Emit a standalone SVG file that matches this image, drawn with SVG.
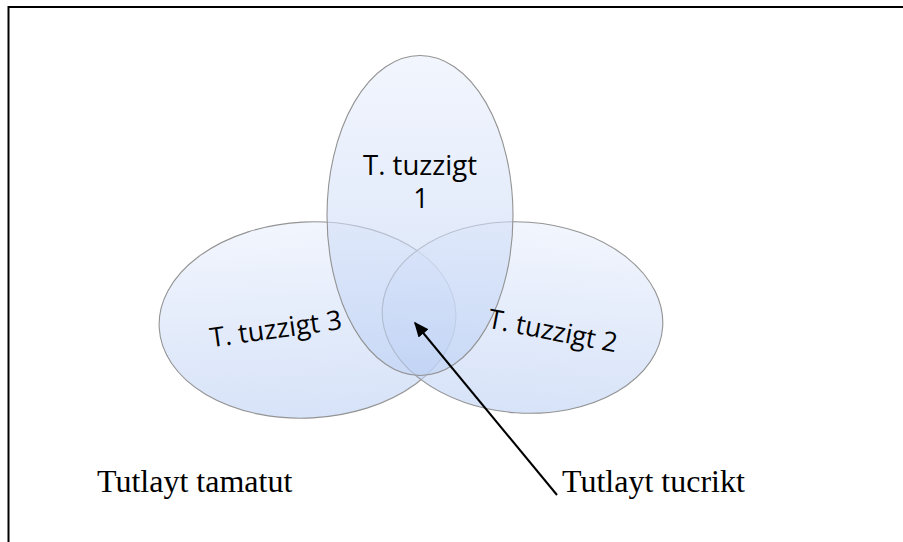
<svg xmlns="http://www.w3.org/2000/svg" width="903" height="542" viewBox="0 0 903 542">
  <defs>
    <linearGradient id="g" x1="0" y1="0" x2="0" y2="1">
      <stop offset="0" stop-color="#e9effc"/>
      <stop offset="1" stop-color="#bcd0f4"/>
    </linearGradient>
    <marker id="ah" viewBox="0 0 10 10" refX="9" refY="5" markerWidth="15" markerHeight="13" orient="auto" markerUnits="userSpaceOnUse" preserveAspectRatio="none">
      <path d="M0,0 L10,5 L0,10 z" fill="#000"/>
    </marker>
    <style>
      .set { fill: url(#g); fill-opacity: 0.6; stroke: #939393; stroke-width: 1.1; }
      .lbl { font-family: "Open Sans", "Liberation Sans", sans-serif; font-size: 27px; fill: #000; }
      .cap { font-family: "Liberation Serif", serif; font-size: 32px; fill: #000; }
    </style>
  </defs>
  <rect width="903" height="542" fill="#fff"/>
  <path d="M8.5,543 V7 H904" fill="none" stroke="#000" stroke-width="2"/>

  <g id="set3">
    <ellipse class="set" cx="307.5" cy="320" rx="148.5" ry="98" transform="rotate(-3 307.5 320)"/>
  </g>
  <g id="set2">
    <ellipse class="set" cx="522.5" cy="317.5" rx="140.5" ry="95.5" transform="rotate(4 522.5 317.5)"/>
  </g>
  <g id="set1">
    <ellipse class="set" cx="420" cy="215.5" rx="93" ry="160"/>
  </g>

  <g id="labels">
    <text class="lbl" x="420" y="175" text-anchor="middle" textLength="114" lengthAdjust="spacingAndGlyphs">T. tuzzigt</text>
    <text class="lbl" x="421" y="208" text-anchor="middle">1</text>
    <text class="lbl" x="277" y="338" text-anchor="middle" transform="rotate(-8 277 338)" textLength="133" lengthAdjust="spacingAndGlyphs">T. tuzzigt 3</text>
    <text class="lbl" x="551" y="340" text-anchor="middle" transform="rotate(11 551 340)" textLength="131" lengthAdjust="spacingAndGlyphs">T. tuzzigt 2</text>
  </g>

  <g id="connectors">
    <line x1="557" y1="495" x2="415" y2="323" stroke="#000" stroke-width="2" marker-end="url(#ah)"/>
  </g>

  <g id="outer-label">
    <text class="cap" x="97" y="492">Tutlayt tamatut</text>
  </g>
  <g id="core-label">
    <text class="cap" x="562" y="492">Tutlayt tucrikt</text>
  </g>
</svg>
